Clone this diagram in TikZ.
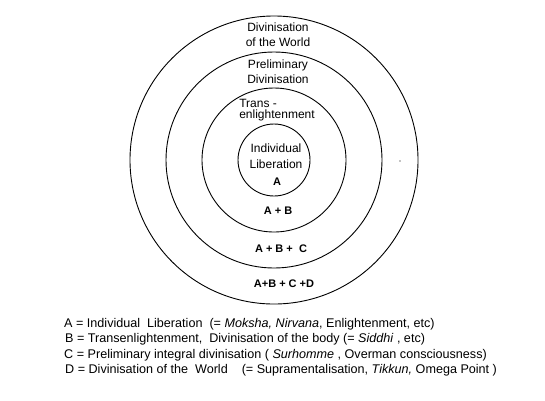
\documentclass[tikz,border=0pt]{standalone}
\usepackage{fontspec}
\setmainfont{Liberation Sans}
\begin{document}
\begin{tikzpicture}[x=1pt, y=-1pt,
        ring/.style={circle, draw, line width=0.9pt, inner sep=0pt},
        label/.style={align=center, font=\fontsize{12}{15}\selectfont},
        sum/.style={font=\fontsize{11}{12}\selectfont\bfseries},
        legend/.style={anchor=west, inner sep=0pt, font=\fontsize{12.6}{14}\selectfont}]
        \useasboundingbox (0, 0) rectangle (545, 400);
        
        % Rings
        \node[ring, minimum size=288pt] (world) at (274, 160) {};
        \node[ring, minimum size=216pt] (prelim) at (274, 160) {};
        \node[ring, minimum size=144pt] (trans) at (274, 160) {};
        \node[ring, minimum size=72pt] (liberation) at (274, 160) {};
        
        % Ring names
        \node[label] (worldname) at (278, 35) {Divinisation\\of the World};
        \node[label] (prelimname) at (278, 72) {Preliminary\\Divinisation};
        \node[label, align=left, font=\fontsize{12}{11.5}\selectfont] (transname) at (277, 110) {Trans -\\enlightenment};
        \node[label, font=\fontsize{12}{16}\selectfont] (libname) at (276, 156) {Individual\\Liberation};
        
        % Sums
        \node[sum] (suma) at (277, 182) {A};
        \node[sum] (sumab) at (278, 211) {A + B};
        \node[sum] (sumabc) at (281, 249) {A + B +\ \ C};
        \node[sum] (sumabcd) at (284, 284) {A+B + C +D};
        
        % Stray dot
        \fill (400, 161) circle (0.7pt);
        
        % Legend
        \node[legend] (keya) at (64, 324) {A = Individual\ \ Liberation\ \ (= \textit{Moksha, Nirvana}, Enlightenment, etc)};
        \node[legend] (keyb) at (65, 339) {B = Transenlightenment,\ \ Divinisation of the body (= \textit{Siddhi} , etc)};
        \node[legend] (keyc) at (64, 355) {C = Preliminary integral divinisation ( \textit{Surhomme} , Overman consciousness)};
        \node[legend] (keyd) at (65, 370) {D = Divinisation of the\ \ World\ \ \ \ (= Supramentalisation, \textit{Tikkun,} Omega Point )};
    \end{tikzpicture}
\end{document}
